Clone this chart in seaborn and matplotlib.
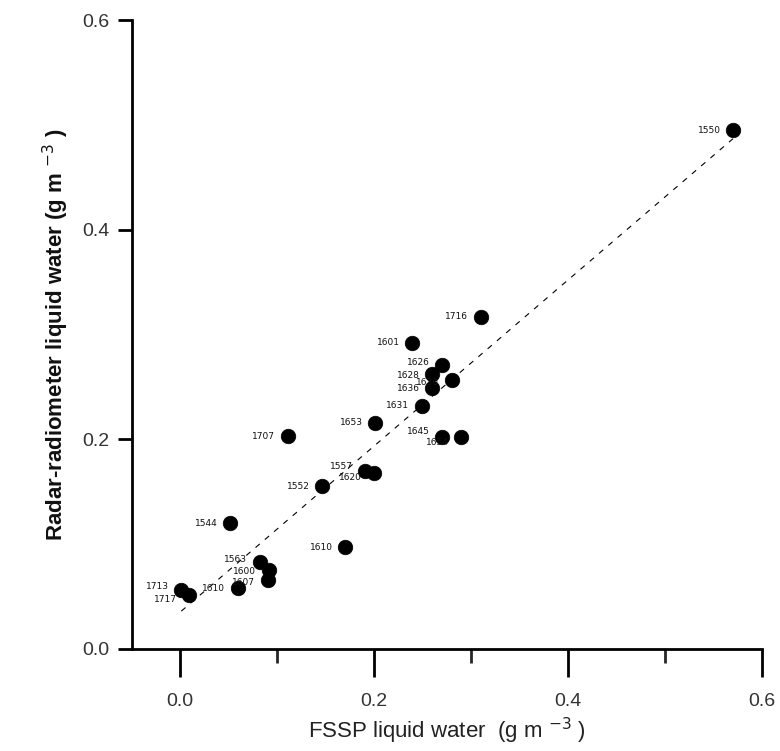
import numpy as np
import pandas as pd
import seaborn as sns
import matplotlib
import matplotlib.pyplot as plt
from matplotlib.ticker import MultipleLocator, FormatStrFormatter

matplotlib.use('Agg')

flights = ['1550', '1716', '1601', '1626', '1628', '1630', '1636', '1631', '1653',
           '1645', '1654', '1707', '1557', '1620', '1552', '1544', '1610',
           '1563', '1600', '1607', '1610', '1713', '1717']
fssp = [0.570, 0.310, 0.239, 0.270, 0.260, 0.280, 0.260, 0.249, 0.201,
        0.270, 0.290, 0.111, 0.191, 0.200, 0.146, 0.051, 0.170,
        0.082, 0.091, 0.090, 0.059, 0.001, 0.009]
radar = [0.495, 0.317, 0.292, 0.271, 0.262, 0.257, 0.249, 0.232, 0.216,
         0.202, 0.202, 0.203, 0.170, 0.168, 0.155, 0.120, 0.097,
         0.083, 0.075, 0.066, 0.058, 0.056, 0.051]

df = pd.DataFrame({'fssp': fssp, 'radar': radar, 'flight': flights})

sns.set_style('white')
plt.rcParams['font.family'] = ['Liberation Sans', 'DejaVu Sans']

fig = plt.figure(figsize=(7.8, 7.51), dpi=100)
ax = fig.add_axes([0.169, 0.136, 0.808, 0.837])

# dashed least-squares line over the data range
sns.regplot(data=df, x='fssp', y='radar', ax=ax, ci=None, scatter=False, truncate=True,
            line_kws={'color': 'black', 'lw': 0.8, 'ls': (0, (5, 6))})
sns.scatterplot(data=df, x='fssp', y='radar', ax=ax, color='black', s=110,
                edgecolor='black', linewidth=0.5, zorder=3)

# small vertical nudges so crowded labels don't sit exactly on top of each other
nudge = {'1557': 3, '1620': -3, '1645': 4, '1654': -4, '1713': 3, '1717': -3,
         '1626': 2, '1628': -1, '1630': -2, '1563': 2, '1600': -1, '1607': -2}
for fx, ry, name in zip(fssp, radar, flights):
    ax.annotate(name, (fx, ry), xytext=(-9, nudge.get(name, 0)), textcoords='offset points',
                ha='right', va='center', fontsize=6.5, color='#111111',
                family=['DejaVu Sans'])

ax.set_xlim(-0.05, 0.6)
ax.set_ylim(0.0, 0.6)
ax.xaxis.set_major_locator(MultipleLocator(0.2))
ax.xaxis.set_minor_locator(MultipleLocator(0.1))
ax.yaxis.set_major_locator(MultipleLocator(0.2))
ax.xaxis.set_major_formatter(FormatStrFormatter('%.1f'))
ax.yaxis.set_major_formatter(FormatStrFormatter('%.1f'))

for side in ['top', 'right']:
    ax.spines[side].set_visible(False)
for side in ['left', 'bottom']:
    ax.spines[side].set_linewidth(2)
    ax.spines[side].set_color('black')

ax.tick_params(axis='x', which='major', direction='out', length=20, width=2, pad=12,
               labelsize=14, colors='black', labelcolor='#333333', bottom=True)
ax.tick_params(axis='x', which='minor', direction='out', length=10, width=2, bottom=True)
ax.tick_params(axis='y', which='major', direction='out', length=10, width=2, pad=6,
               labelsize=14, colors='black', labelcolor='#333333', left=True)

ax.set_xlabel('FSSP liquid water  (g m $^{-3}$ )', fontsize=16, color='#222222', labelpad=4)
ax.set_ylabel('Radar-radiometer liquid water (g m $^{-3}$ )', fontsize=16,
              fontweight='bold', color='#111111', labelpad=8)

fig.savefig('out.png', dpi=100)
